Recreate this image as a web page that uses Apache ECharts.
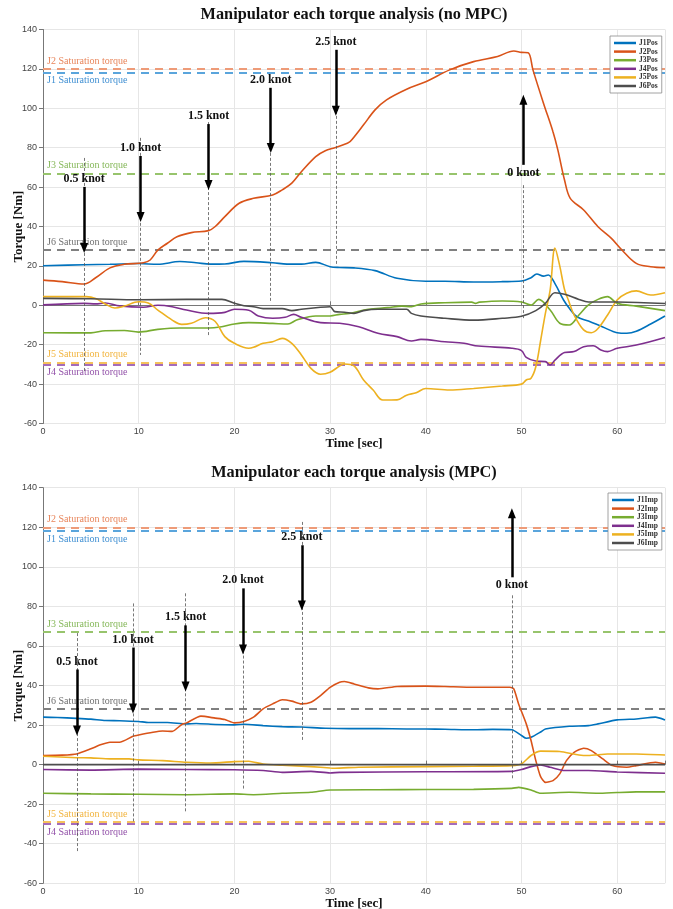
<!DOCTYPE html>
<html>
<head>
<meta charset="utf-8">
<script src="https://cdn.jsdelivr.net/npm/echarts@6/dist/echarts.min.js"></script>
<style>html,body{margin:0;padding:0;background:#fff}#c{width:673px;height:909px}</style>
</head>
<body>
<div id="c"></div>
<script>
// ---------- DATA ----------
const posNames = ['J1Pos','J2Pos','J3Pos','J4Pos','J5Pos','J6Pos'];
const impNames = ['J1Imp','J2Imp','J3Imp','J4Imp','J5Imp','J6Imp'];
const xTicks = [0,10,20,30,40,50,60];
const yTicks = [-60,-40,-20,0,20,40,60,80,100,120,140];

const J1Pos = [[0,20.1],[4.3,20.6],[7,20.8],[10,21.2],[12,20.8],[14.3,22.2],[16,21.6],[17.5,20.9],[19,21],[21,22.3],[24,21.6],[25.5,20.9],[27,20.9],[28.5,21.8],[30,19.6],[31,19.2],[32.5,19],[34.7,17.6],[37,13.7],[40,12.2],[42,12.2],[45,11.8],[48,12],[50,12.3],[51,14],[51.6,15.9],[52.3,14.8],[52.8,15.4],[53.5,11],[54.4,2.7],[55,-1.5],[55.8,-5.8],[57,-8],[58.5,-11],[60,-13.9],[61,-14.2],[62,-13.2],[63.5,-9.5],[65,-5.4]];
const J2Pos = [[0,12.8],[2,12],[4.3,10.8],[5.5,14],[7,19],[8.5,20.8],[10.5,21.6],[11.2,23],[12,28],[13,31.5],[14,34.8],[15.5,36.9],[17.3,37.9],[18,40],[19,45],[20.5,51.8],[22,54.3],[24,56],[25,58.6],[26,62],[27,67.8],[28.5,75.5],[29.5,78.5],[30.5,80],[31.8,82.3],[32.1,83.1],[33.5,91.6],[34.7,99.2],[35.9,104.3],[38,109.7],[40,113.5],[42.5,119.5],[45,123.7],[47.5,126.3],[49.2,129.1],[50,128.4],[50.7,128.2],[51.2,119.5],[52.3,102.6],[53.3,88],[53.8,78.9],[54.5,63.6],[55.1,54.3],[56.5,48.4],[58,39.9],[59.4,34],[60.5,28.1],[62,21.3],[63.5,19.6],[65,19.1]];
const J3Pos = [[0,-13.9],[5,-14],[6.5,-12.9],[8.5,-12.8],[10,-13.6],[12,-12.2],[14.3,-11.5],[17.3,-11.5],[18.5,-11],[20,-9.5],[21.5,-8.8],[24,-9.2],[25.6,-9.5],[26.5,-7.5],[28.5,-5.4],[30,-5.4],[31,-4.6],[32,-4.1],[34,-2],[36,-1.2],[37.5,-0.4],[38.5,-0.7],[39.5,0.7],[42,1.3],[44.8,1.6],[45.2,1],[45.6,1.6],[48,2.2],[50,1.7],[51,0.1],[51.8,3],[53,-2.4],[54,-9.1],[55,-10],[56,-4.9],[57,0.2],[58,3],[59,4.4],[60,1],[62,-0.4],[65,-2.7]];
const J4Pos = [[0,0.2],[4.3,1],[5.5,0.7],[6.5,1.2],[8,-0.3],[10.5,-1],[12,0],[13.5,-0.7],[15,-2.4],[17.3,-4.1],[19,-3.6],[20,-2],[21.5,-2.5],[22.5,-5.4],[24,-6.6],[25.3,-6.1],[26.2,-4.6],[27,-6.1],[29,-8.8],[31,-9.1],[33,-10.9],[35,-14.2],[37,-15.9],[38.5,-18.1],[39.5,-17.3],[42,-18.5],[44,-19.3],[45.5,-20.7],[49,-21.8],[50,-23],[50.5,-26.4],[51.5,-28.3],[52.5,-28.6],[53,-30.3],[53.5,-27.8],[54.5,-24],[55.5,-23.5],[56.5,-21],[57.5,-20.5],[58.3,-22.7],[59,-23.5],[60,-21.8],[62,-20.2],[65,-16.3]];
const J5Pos = [[0,4.4],[4.5,4.4],[5.5,3.5],[6.5,0.7],[7.5,-1.4],[8.5,-0.4],[10,1.8],[11,1.2],[12,-2.4],[13.5,-7.5],[14.5,-9.7],[15.5,-9.1],[17,-6.3],[18,-8.2],[19,-15.9],[20,-19.3],[21.5,-21.8],[22,-21.3],[23,-19.3],[24,-18.5],[25,-16.8],[26,-19.3],[27,-25.2],[28,-32],[29,-35],[30,-34],[31,-30.8],[31.5,-29.8],[32.5,-30.8],[33.5,-37.9],[34.5,-43],[35.5,-48.1],[37,-48],[38,-45.6],[39,-44.4],[40,-42.2],[42.5,-43],[45,-42.2],[48,-41],[50,-40],[50.5,-37.9],[51,-37],[51.5,-31.2],[52,-18],[52.5,-4.1],[53,7.8],[53.5,29],[54,20],[54.5,8],[54.9,2.7],[55.5,-4.9],[56.5,-12.5],[57.3,-13.9],[58,-11.8],[59,-4.9],[60,2.7],[61,6.1],[62,7.3],[63.5,5.2],[65,6.4]];
const J6Pos = [[0,3.5],[5,3.3],[10,2.8],[15,3],[18.7,3],[20,1],[21,-0.2],[22,-0.7],[23,-1.7],[25,-1.7],[26,-2.7],[27,-2],[29,-1],[30,-0.7],[30.5,-3.2],[31.5,-3.5],[32.5,-4.1],[33.5,-2.7],[35,-2],[38,-2],[38.5,-4.1],[39.5,-5.4],[42,-6.6],[45,-7.5],[48,-6.6],[50,-5.6],[51.5,-2.7],[52.5,1],[53.5,6.4],[54.5,5.6],[56,3],[57,1.7],[60,1.7],[65,0.9]];

const J1Imp = [[0,24],[1.5,23.8],[3.5,23.4],[5,23],[6.5,22.3],[8,22.2],[10,21.8],[11,21.3],[13,21.3],[15,20.6],[16,20.8],[18,20.3],[20,20.1],[21,20.4],[23,19.7],[25,19.2],[27,19],[29.5,18.4],[32,18.2],[35,18.2],[38,18],[40,18],[42,17.9],[45,17.6],[47,17.8],[49,17.6],[50,14.7],[50.5,13.3],[51,13.8],[52,16.5],[52.5,18],[55,19.4],[57,19.7],[58,20.6],[60,22.6],[62,23.1],[64,24],[65,22.6]];
const J2Imp = [[0,4.6],[2,4.8],[3.5,5.4],[5,8],[6,10],[7,11.3],[8,11.3],[9.4,14.3],[10,15],[11.5,16.4],[12.5,17],[13.5,16.8],[14.5,20.3],[15,21.1],[16.5,24.5],[18,23.5],[19,22.8],[20,21.1],[21,21.8],[22,24],[23,28.2],[24,30.7],[25,32.8],[26,32.1],[27,30.7],[28,31.5],[29,34.9],[30,39.1],[31,41.7],[31.5,42],[32.5,40.8],[34,38.8],[35,38.3],[37,39.5],[40,39.7],[42,39.5],[45,39.1],[48.8,39.1],[49.2,38.3],[49.7,30.7],[50.5,20.6],[51,12.2],[51.5,2],[52,-6.1],[52.5,-9],[53.3,-8.1],[54,-4.7],[54.7,2],[55.5,6.2],[56.5,8.3],[57.3,7.1],[58.5,2.9],[59.5,-0.5],[61,-1.3],[62,-0.5],[64,1.2],[65,0.3]];
const J3Imp = [[0,-14.5],[5,-14.8],[10,-15],[15,-15.2],[20,-14.8],[22,-15.2],[25,-14.5],[28,-14],[30,-12.8],[35,-12.7],[40,-12.6],[45,-12.5],[49,-12],[49.7,-11.5],[51,-12.8],[52,-14.5],[55,-14],[58,-14.5],[60,-14.1],[62,-13.8],[65,-13.8]];
const J4Imp = [[0,-2.5],[5,-2.8],[10,-2.3],[15,-2.5],[20,-2.6],[23,-3],[25,-3.9],[28,-3.4],[30,-4.2],[31,-3.9],[40,-3.6],[49,-3.4],[50,-2.5],[51,-1],[52,-0.2],[53,-1.3],[54.5,-3],[57,-3],[60,-3.7],[65,-4.4]];
const J5Imp = [[0,4.2],[3.5,3.5],[5,3.4],[7,2.9],[9,2.9],[10,2.4],[12.5,2],[15,1.2],[17.5,0.8],[20,1.5],[21.5,1.7],[23,0.3],[25,-0.3],[28,-1],[30,-1.7],[30.5,-1.8],[33,-1.3],[40,-1],[45,-0.8],[49,-0.5],[50,0.3],[51,4.6],[52,6.8],[54,6.6],[56,4.9],[57,4.6],[59,5.4],[62,5.4],[65,4.9]];
const J6Imp = [[0,0],[20,0],[40,0],[65,0]];

// saturation torques
const satValues = [118, 120, 67, -30, -29, 28];
const satLabels = ['J1 Saturation torque','J2 Saturation torque','J3 Saturation torque','J4 Saturation torque','J5 Saturation torque','J6 Saturation torque'];

// knot events (no MPC)
const knotLabels = ['0.5 knot','1.0 knot','1.5 knot','2.0 knot','2.5 knot','0 knot'];
const topTimes = [4.3, 10.2, 17.3, 23.8, 30.6, 50.2];
const topArrowFrom = [60.1, 75.8, 92, 110.4, 129.7, 71.3];
const topArrowTo = [29.1, 44.8, 61.1, 79.9, 98.7, 104.3];
const topDashFrom = [74.8, 85, 93, 79.9, 98.7, 61];
const topDashTo = [-33.9, -25.2, -16.1, 1.2, 20, -7.5];
// knot events (MPC)
const botTimes = [3.55, 9.4, 14.9, 20.9, 27.05, 49];
const botArrowFrom = [48.1, 59.2, 70.4, 89.1, 110.9, 94.7];
const botArrowTo = [17.2, 28.4, 39.5, 58.2, 80.5, 127.1];
const botDashFrom = [66.5, 81.5, 86.6, 88, 122.7, 85.6];
const botDashTo = [-44.4, -29.2, -24.2, -12.7, 12.2, -7.1];

// ---------- STYLE ----------
const serif = "'Liberation Serif','Times New Roman',serif";
const sans = "'Liberation Sans',Arial,sans-serif";
const lineColors = ['#0072BD','#D95319','#77AC30','#7E2F8E','#EDB120','#4D4D4D'];
const satLineColors = ['#5AA5DC','#EE9B78','#97C46C','#A56BBA','#F5C25C','#808080'];
const satTextColors = ['#3F8FD2','#E8855B','#86B85A','#9352A9','#F2B43E','#6F6F6F'];
const satPos = ['insideStartBottom','insideStartTop','insideStartTop','insideStartBottom','insideStartTop','insideStartTop'];

const chart = echarts.init(document.getElementById('c'), null, {renderer:'canvas'});

function xAxisCfg(gi){
  return {gridIndex:gi, type:'value', min:0, max:65, interval:10,
    name:'Time [sec]', nameLocation:'middle', nameGap:12,
    nameTextStyle:{fontFamily:serif, fontWeight:'bold', fontSize:13, color:'#111'},
    axisLine:{show:true, lineStyle:{color:'#777', width:1}},
    axisTick:{show:true, inside:true, length:4, lineStyle:{color:'#777'}},
    axisLabel:{fontFamily:sans, fontSize:9, color:'#444', margin:4,
      formatter:v => xTicks.indexOf(v) >= 0 ? String(v) : ''},
    splitLine:{show:true, lineStyle:{color:'#e6e6e6', width:1}}};
}
function yAxisCfg(gi){
  return {gridIndex:gi, type:'value', min:-60, max:140, interval:20,
    name:'Torque [Nm]', nameLocation:'middle', nameGap:18, nameMoveOverlap:false,
    nameTextStyle:{fontFamily:serif, fontWeight:'bold', fontSize:13, color:'#111'},
    axisLine:{show:true, lineStyle:{color:'#777', width:1}},
    axisTick:{show:true, inside:false, length:4, lineStyle:{color:'#777'}},
    axisLabel:{fontFamily:sans, fontSize:9, color:'#444', margin:6,
      formatter:v => yTicks.indexOf(v) >= 0 ? String(v) : ''},
    splitLine:{show:true, lineStyle:{color:'#e6e6e6', width:1}}};
}

function dataSeries(names, datas, gi, smooth){
  return names.map((n,i)=>({name:n, type:'line', xAxisIndex:gi, yAxisIndex:gi,
    data:datas[i], showSymbol:false, smooth:smooth, z:3,
    lineStyle:{color:lineColors[i], width:1.6}, itemStyle:{color:lineColors[i]}}));
}

function satSeries(gi){
  return {type:'line', xAxisIndex:gi, yAxisIndex:gi, data:[], z:2,
    markLine:{silent:true, symbol:['none','none'], animation:false, z:2,
      data: satValues.map((v,i)=>({yAxis:v,
        lineStyle:{color:satLineColors[i], type:[8,6], width:2},
        label:{show:true, formatter:satLabels[i], position:satPos[i], distance:[4,3],
          color:satTextColors[i], fontFamily:serif, fontSize:10}}))}};
}

function dashSeries(gi, times, from, to){
  return {type:'line', xAxisIndex:gi, yAxisIndex:gi, data:[], z:4,
    markLine:{silent:true, symbol:['none','none'], animation:false, label:{show:false}, z:4,
      lineStyle:{color:'#555', type:[3,2], width:0.8},
      data: times.map((t,i)=>[{coord:[t,from[i]]},{coord:[t,to[i]]}])}};
}

function arrowSeries(gi, times, from, to){
  return {type:'line', xAxisIndex:gi, yAxisIndex:gi, data:[], z:5,
    markLine:{silent:true, animation:false, symbol:['none','triangle'], symbolSize:[1,10], z:5,
      lineStyle:{color:'#000', type:'solid', width:2.5},
      label:{show:true, position:'start', distance:2, color:'#111',
        fontFamily:serif, fontWeight:'bold', fontSize:12},
      data: times.map((t,i)=>[
        {coord:[t,from[i]], symbol:'none', label:{formatter:knotLabels[i]}},
        {coord:[t,to[i]], symbol:'triangle', symbolSize:[8,10]}])}};
}

function legendCfg(names, left, top){
  return {data:names, orient:'vertical', left:left, top:top, icon:'rect', z:20,
    itemWidth:22, itemHeight:2.5, itemGap:0.6, padding:[3,4,3,4],
    backgroundColor:'#fff', borderColor:'#8a8a8a', borderWidth:0.8,
    textStyle:{fontFamily:serif, fontWeight:'bold', fontSize:7.5, color:'#333', padding:[0,0,0,-2]},
    selectedMode:false};
}

const option = {
  animation:false,
  backgroundColor:'#fff',
  graphic:[
    {type:'text', x:354, y:15, style:{text:'Manipulator each torque analysis (no MPC)', textAlign:'center', textVerticalAlign:'middle', fontFamily:serif, fontWeight:'bold', fontSize:16.3, fill:'#111'}},
    {type:'text', x:354, y:473, style:{text:'Manipulator each torque analysis (MPC)', textAlign:'center', textVerticalAlign:'middle', fontFamily:serif, fontWeight:'bold', fontSize:16.3, fill:'#111'}}
  ],
  grid:[{left:43, top:29.5, width:622, height:394, outerBoundsMode:'none', containLabel:false},
        {left:43, top:487.7, width:622, height:395.6, outerBoundsMode:'none', containLabel:false}],
  xAxis:[xAxisCfg(0), xAxisCfg(1)],
  yAxis:[yAxisCfg(0), yAxisCfg(1)],
  legend:[legendCfg(posNames, 610, 36), legendCfg(impNames, 608, 493)],
  series:[
    satSeries(0), satSeries(1),
    ...dataSeries(posNames, [J1Pos,J2Pos,J3Pos,J4Pos,J5Pos,J6Pos], 0, 0.35),
    ...dataSeries(impNames, [J1Imp,J2Imp,J3Imp,J4Imp,J5Imp,J6Imp], 1, 0.2),
    dashSeries(0, topTimes, topDashFrom, topDashTo),
    dashSeries(1, botTimes, botDashFrom, botDashTo),
    arrowSeries(0, topTimes, topArrowFrom, topArrowTo),
    arrowSeries(1, botTimes, botArrowFrom, botArrowTo)
  ]
};
chart.setOption(option);
</script>
</body>
</html>
